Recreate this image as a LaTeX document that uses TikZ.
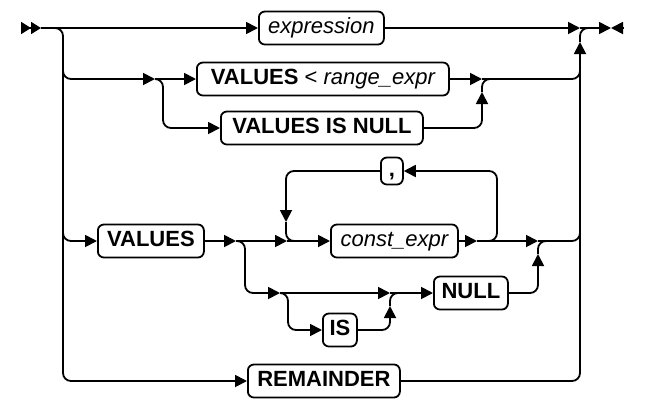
\documentclass[tikz,border=0pt]{standalone}
\usepackage{fontspec}
\setmainfont{Liberation Sans}
\usetikzlibrary{arrows.meta}
\newcommand{\railfont}{\fontsize{22}{26}\selectfont}
\tikzset{rail/.style={line width=1.8pt, rounded corners=8pt}}
\tikzset{arr/.style={rail, -{Triangle[length=12pt,width=12pt]}}}
\tikzset{term/.style={draw, line width=1.8pt, rounded corners=6pt, anchor=west, font=\railfont\bfseries, text height=16pt, text depth=5pt, inner ysep=6pt, inner xsep=2pt, minimum height=33pt}}
\tikzset{nonterm/.style={term, font=\railfont\itshape}}
\begin{document}
\begin{tikzpicture}[x=1pt, y=-1pt]
\useasboundingbox (0,0) rectangle (662,408);
% boxes of the syntax diagram
\node (expr) at (258,28)[nonterm, minimum width=125pt]{expression};
\node (vrange) at (196,79)[term, minimum width=252pt]{VALUES {\mdseries < \itshape range\_expr}};
\node (vnull) at (220,128)[term, minimum width=202pt]{VALUES IS NULL};
\node (vals) at (97,241)[term, minimum width=106pt]{VALUES};
\node (comma) at (380,171)[term, minimum width=22pt, minimum height=27pt, inner ysep=3pt, inner xsep=0pt]{,};
\node (cexpr) at (330,241)[nonterm, minimum width=127pt]{const\_expr};
\node (null) at (433,293)[term, minimum width=74pt]{NULL};
\node (is) at (322,330)[term, minimum width=34pt]{IS};
\node (rem) at (247,381)[term, minimum width=152pt]{REMAINDER};
% junctions
\coordinate (in) at (21,28);
\coordinate (in2) at (41,28);
\coordinate (j0) at (50,28);
\coordinate (lx) at (63,60);
\coordinate (out) at (580,28);
\coordinate (out2) at (611,28);
\coordinate (fin) at (623,28);
\coordinate (rx) at (580,60);
\coordinate (up0) at (580,42);
\coordinate (jr0) at (594,28);
\coordinate (a1) at (155,79);
\coordinate (sx) at (163,79);
\coordinate (a2) at (482,79);
\coordinate (up1) at (482,92);
\coordinate (jr1) at (494,79);
\coordinate (b1) at (236,241);
\coordinate (dx) at (245,241);
\coordinate (b2) at (287,241);
\coordinate (lp) at (286,222);
\coordinate (lp2) at (302,241);
\coordinate (b3) at (477,241);
\coordinate (rl) at (497,241);
\coordinate (b4) at (538,241);
\coordinate (up2) at (538,254);
\coordinate (jr2) at (550,241);
\coordinate (c1) at (280,293);
\coordinate (ix) at (288,293);
\coordinate (c2) at (390,293);
\coordinate (up3) at (390,306);
\coordinate (jr3) at (402,293);
% start and end
\draw[rail, -{Triangle[length=10pt,width=12pt]Triangle[length=10pt,width=12pt]}] (in) -- (in2);
\draw[arr] (in2) -- (expr.west);
\draw[arr] (expr.east) -- (out);
\draw[arr] (out) -- (out2);
\draw[rail, {Triangle[length=12pt,width=12pt]}-] (out2) -- (fin);
% left branch
\draw[arr] (j0) -| (lx |- rem.west) -- (rem.west);
\draw[arr] (lx) |- (a1);
\draw[arr] (a1) -- (vrange.west);
\draw[arr] (a1) -| (sx |- vnull.west) -- (vnull.west);
\draw[arr] (lx) |- (vals.west);
% right join
\draw[arr] (rem.east) -| (up0);
\draw[rail] (up0) |- (jr0);
\draw[arr] (vrange.east) -- (a2);
\draw[rail] (a2) -| (rx);
\draw[arr] (vnull.east) -| (up1);
\draw[rail] (up1) |- (jr1);
% list of values
\draw[arr] (vals.east) -- (b1);
\draw[arr] (b1) -- (b2);
\draw[arr] (b2) -- (cexpr.west);
\draw[arr] (comma.west) -| (lp);
\draw[rail] (lp) |- (lp2);
\draw[arr] (cexpr.east) -- (b3);
\draw[arr] (b3) -| (rl |- comma.east) -- (comma.east);
\draw[arr] (b3) -- (b4);
\draw[rail] (b4) -| (rx);
% null branch
\draw[arr] (b1) -| (dx |- c1) -- (c1);
\draw[arr] (c1) -- (c2);
\draw[arr] (c2) -- (null.west);
\draw[arr] (c1) -| (ix |- is.west) -- (is.west);
\draw[arr] (is.east) -| (up3);
\draw[rail] (up3) |- (jr3);
\draw[arr] (null.east) -| (up2);
\draw[rail] (up2) |- (jr2);
\end{tikzpicture}
\end{document}
